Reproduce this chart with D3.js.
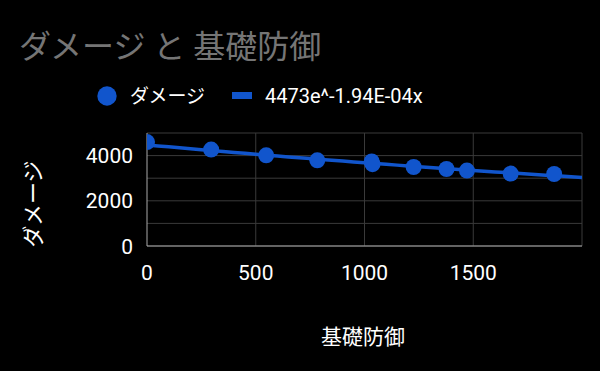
<!DOCTYPE html>
<html>
<head>
<meta charset="utf-8">
<script src="https://cdn.jsdelivr.net/npm/d3@7"></script>
<style>
  body { margin: 0; background: #000; }
  text { font-family: Roboto, "Noto Sans CJK JP", sans-serif; }
</style>
</head>
<body>
<div id="chart"></div>
<script>
// 基礎防御 vs ダメージ
const defense = [0, 295, 548, 783, 1033, 1037, 1226, 1377, 1471, 1672, 1872];
const damage = [4600, 4265, 4013, 3792, 3740, 3620, 3496, 3407, 3336, 3203, 3186];
const xTicks = [0, 500, 1000, 1500];
const yTicks = [0, 2000, 4000];
const yGrid = [0, 1000, 2000, 3000, 4000, 5000];
const trendA = 4473, trendB = -1.94e-4;

let width = 600, height = 371;
let margin = {top: 133, right: 18, bottom: 125, left: 147};

let svg = d3.select("#chart")
    .append("svg")
    .attr("width", width)
    .attr("height", height)
    .style("background-color", "#000");

let x = d3.scaleLinear().domain([0, 2000]).range([margin.left, width - margin.right]);
let y = d3.scaleLinear().domain([0, 5000]).range([height - margin.bottom, margin.top]);

// plot area clip (points at the edge get cut)
svg.append("defs")
    .append("clipPath")
    .attr("id", "plotclip")
    .append("rect")
    .attr("x", x(0))
    .attr("y", y(5000))
    .attr("width", x(2000) - x(0))
    .attr("height", y(0) - y(5000));

// title
svg.append("text")
    .attr("x", 19)
    .attr("y", 58)
    .attr("font-size", 32)
    .attr("fill", "#757575")
    .text("ダメージ と 基礎防御");

// legend
svg.append("circle").attr("cx", 107).attr("cy", 96).attr("r", 9.7).attr("fill", "#1155cc");
svg.append("text").attr("x", 130).attr("y", 103).attr("font-size", 19).attr("fill", "#fff").text("ダメージ");
svg.append("rect").attr("x", 232).attr("y", 92).attr("width", 20).attr("height", 7).attr("fill", "#1155cc");
svg.append("text").attr("x", 265).attr("y", 103).attr("font-size", 20).attr("fill", "#fff").text("4473e^-1.94E-04x");

// grid
svg.append("g")
    .selectAll("line")
    .data(yGrid)
    .enter()
    .append("line")
    .attr("x1", x(0)).attr("x2", x(2000))
    .attr("y1", d => y(d)).attr("y2", d => y(d))
    .attr("stroke", "#3a3a3a").attr("stroke-width", 1);

svg.append("g")
    .selectAll("line")
    .data([500, 1000, 1500, 2000])
    .enter()
    .append("line")
    .attr("x1", d => x(d)).attr("x2", d => x(d))
    .attr("y1", y(0)).attr("y2", y(5000))
    .attr("stroke", "#3a3a3a").attr("stroke-width", 1);

// axis lines
svg.append("line")
    .attr("x1", x(0)).attr("x2", x(2000))
    .attr("y1", y(0)).attr("y2", y(0))
    .attr("stroke", "#aaa").attr("stroke-width", 1);
svg.append("line")
    .attr("x1", x(0)).attr("x2", x(0))
    .attr("y1", y(0)).attr("y2", y(5000))
    .attr("stroke", "#aaa").attr("stroke-width", 1);

// tick labels
svg.append("g")
    .selectAll("text")
    .data(yTicks)
    .enter()
    .append("text")
    .attr("x", 133)
    .attr("y", d => y(d) + 7.5)
    .attr("text-anchor", "end")
    .attr("font-size", 21)
    .attr("fill", "#fff")
    .text(d => d);

svg.append("g")
    .selectAll("text")
    .data(xTicks)
    .enter()
    .append("text")
    .attr("x", d => x(d))
    .attr("y", 280)
    .attr("text-anchor", "middle")
    .attr("font-size", 21)
    .attr("fill", "#fff")
    .text(d => d);

// axis titles
svg.append("text")
    .attr("transform", "translate(41,204) rotate(-90)")
    .attr("text-anchor", "middle")
    .attr("font-size", 22)
    .attr("fill", "#fff")
    .text("ダメージ");

svg.append("text")
    .attr("x", 363)
    .attr("y", 344)
    .attr("text-anchor", "middle")
    .attr("font-size", 21)
    .attr("fill", "#fff")
    .text("基礎防御");

let plot = svg.append("g").attr("clip-path", "url(#plotclip)");

// trend line
let trendX = d3.range(0, 2001, 50);
plot.append("path")
    .datum(trendX)
    .attr("fill", "none")
    .attr("stroke", "#1155cc")
    .attr("stroke-width", 3.5)
    .attr("d", d3.line()
        .x(d => x(d))
        .y(d => y(trendA * Math.exp(trendB * d))));

// points
plot.append("g")
    .selectAll("circle")
    .data(defense)
    .enter()
    .append("circle")
    .attr("cx", d => x(d))
    .attr("cy", (d, i) => y(damage[i]))
    .attr("r", 8)
    .attr("fill", "#1155cc");
</script>
</body>
</html>
